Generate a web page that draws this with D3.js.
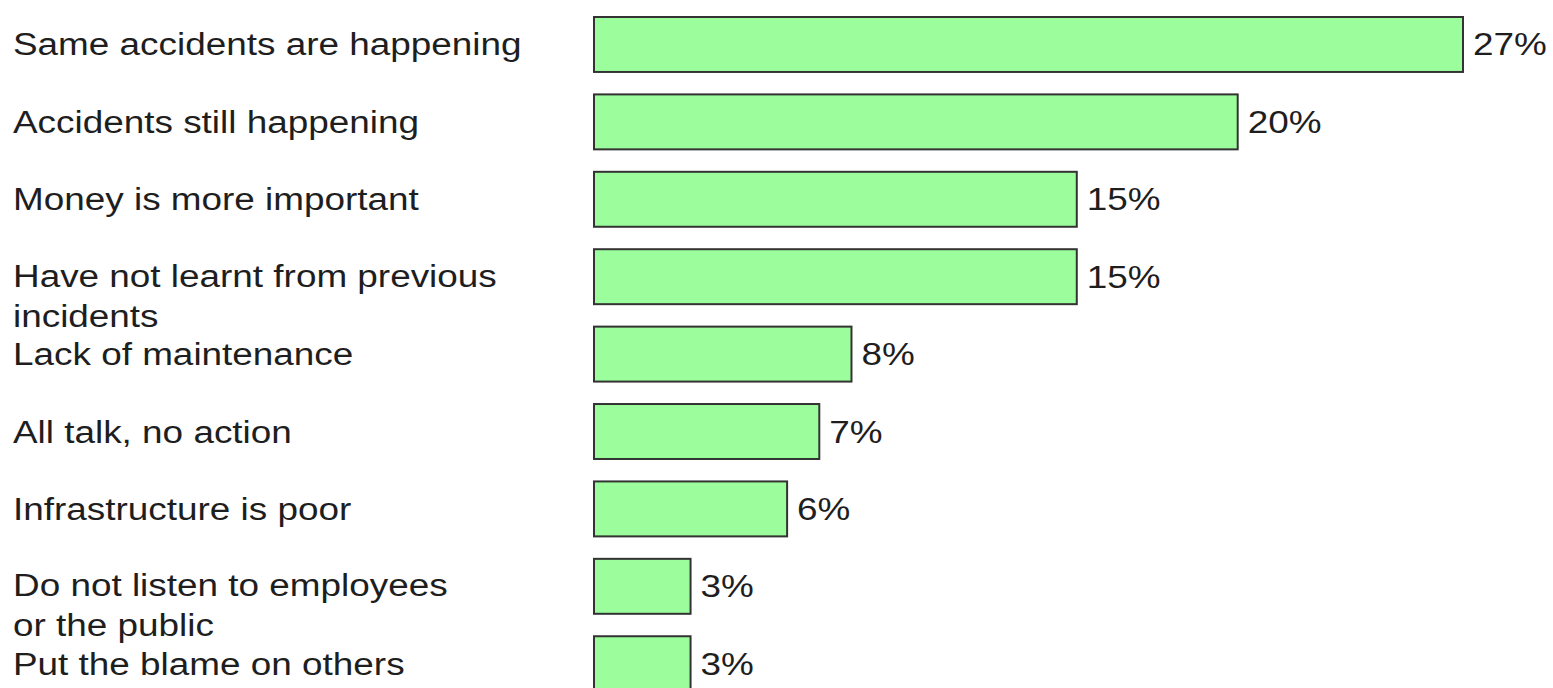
<!DOCTYPE html>
<html>
<head>
<meta charset="utf-8">
<script src="https://cdn.jsdelivr.net/npm/d3@7"></script>
<style>
  html, body { margin: 0; padding: 0; background: #ffffff; }
  svg { display: block; }
  text { font-family: Arial, "Liberation Sans", sans-serif; fill: #1e1e1e; }
</style>
</head>
<body>
<svg id="chart" width="1553" height="688"></svg>
<script>
// Reasons given, in order of share of responses
const categories = [
  "Same accidents are happening",
  "Accidents still happening",
  "Money is more important",
  "Have not learnt from previous\nincidents",
  "Lack of maintenance",
  "All talk, no action",
  "Infrastructure is poor",
  "Do not listen to employees\nor the public",
  "Put the blame on others"
];
const values = [27, 20, 15, 15, 8, 7, 6, 3, 3];
const valueLabels = ["27%", "20%", "15%", "15%", "8%", "7%", "6%", "3%", "3%"];

const width = 1553, height = 688;
const fontSize = 31;
const stretch = 1.19;     // wide typeface look
const lineGap = 40;

const svg = d3.select("#chart");

const x = d3.scaleLinear().domain([0, 27]).range([594, 1463]);
const y = d3.scaleBand()
  .domain(categories)
  .range([17, 691.2])
  .paddingInner(0.29)
  .paddingOuter(0);

const rows = categories.map((c, i) => ({ cat: c, value: values[i], label: valueLabels[i] }));

// Bars
svg.append("g").selectAll("rect")
  .data(rows)
  .join("rect")
  .attr("x", x(0))
  .attr("y", d => y(d.cat))
  .attr("width", d => x(d.value) - x(0))
  .attr("height", y.bandwidth())
  .attr("fill", "#9bfd9b")
  .attr("stroke", "#333333")
  .attr("stroke-width", 2);

// Category labels on the left (multi-line where the text wraps)
const catG = svg.append("g");
rows.forEach(d => {
  const lines = d.cat.split("\n");
  const cy = y(d.cat) + y.bandwidth() / 2;
  const base = lines.length > 1 ? cy + 10 : cy + 11;
  lines.forEach((line, k) => {
    catG.append("text")
      .attr("transform", `translate(13,${base + k * lineGap}) scale(${stretch},1)`)
      .attr("font-size", fontSize)
      .text(line);
  });
});

// Value labels at the bar ends
svg.append("g").selectAll("text")
  .data(rows)
  .join("text")
  .attr("transform", d => `translate(${x(d.value) + 10},${y(d.cat) + y.bandwidth() / 2 + 11}) scale(${stretch},1)`)
  .attr("font-size", fontSize)
  .text(d => d.label);
</script>
</body>
</html>
